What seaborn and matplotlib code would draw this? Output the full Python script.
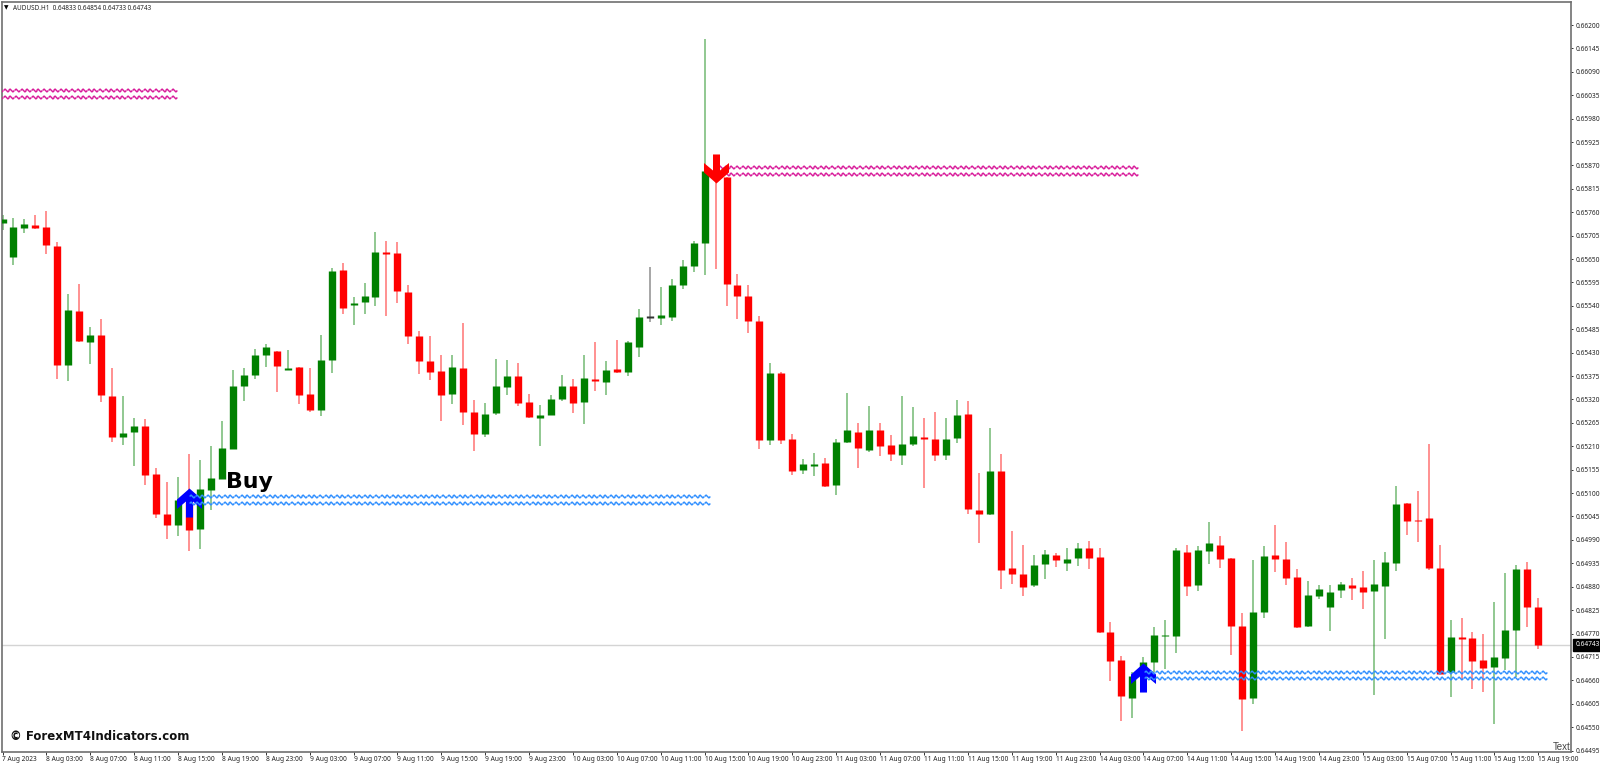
import numpy as np
import pandas as pd
import matplotlib
matplotlib.use("Agg")
import matplotlib.pyplot as plt
from matplotlib.path import Path
from matplotlib.ticker import FixedLocator, FixedFormatter
import seaborn as sns

# AUDUSD H1 prices, in units of 0.00001
opens = [65734,65655,65722,65730,65725,65681,65400,65528,65456,65472,
         65328,65231,65244,65258,65144,65051,65025,65079,65016,65107,
         65132,65203,65352,65378,65425,65433,65390,65396,65332,65295,
         65413,65624,65542,65548,65560,65666,65665,65573,65469,65410,
         65386,65332,65393,65290,65239,65289,65349,65375,65314,65277,
         65284,65321,65351,65315,65369,65361,65392,65385,65443,65514,
         65511,65513,65590,65634,65688,65857,65843,65589,65564,65504,
         65225,65382,65226,65154,65164,65170,65120,65219,65244,65202,
         65248,65212,65190,65215,65232,65228,65189,65229,65287,65060,
         65051,65152,64923,64909,64884,64934,64954,64936,64947,64970,
         64950,64774,64708,64618,64668,64703,64765,64765,64962,64884,
         64964,64978,64947,64788,64619,64821,64954,64945,64903,64787,
         64858,64832,64872,64884,64880,64871,64882,64936,65076,65037,
         65041,64924,64680,64761,64759,64708,64691,64712,64778,64921,
         64833]
highs = [65754,65746,65743,65754,65762,65689,65569,65591,65490,65508,
         65393,65328,65276,65273,65158,65127,65137,65191,65178,65211,
         65269,65389,65395,65439,65450,65433,65436,65396,65395,65472,
         65630,65640,65560,65593,65713,65692,65689,65589,65482,65469,
         65424,65424,65499,65319,65311,65416,65413,65406,65334,65307,
         65331,65377,65369,65424,65455,65410,65460,65457,65533,65631,
         65584,65604,65648,65692,66167,65883,65843,65614,65589,65516,
         65406,65385,65240,65179,65194,65183,65226,65336,65264,65304,
         65264,65236,65327,65302,65276,65290,65276,65319,65316,65148,
         65252,65192,65010,64978,64954,64966,64959,64972,64982,64988,
         64970,64796,64717,64679,64715,64785,64802,64970,64979,64976,
         65031,64998,64947,64818,64942,64976,65025,64985,64921,64893,
         64884,64884,64891,64900,64916,64942,64962,65116,65076,65105,
         65215,64978,64802,64806,64773,64770,64845,64913,64931,64938,
         64854]
lows = [65718,65636,65712,65721,65662,65367,65363,65455,65403,65315,
        65219,65213,65164,65119,65042,64993,65000,64965,64968,65060,
        65132,65203,65316,65369,65396,65338,65389,65309,65291,65281,
        65382,65521,65495,65521,65540,65517,65546,65450,65380,65366,
        65270,65309,65259,65200,65232,65284,65331,65305,65276,65211,
        65284,65317,65288,65262,65340,65330,65383,65375,65420,65501,
        65496,65505,65579,65620,65612,65626,65540,65510,65476,65203,
        65213,65216,65143,65145,65140,65115,65096,65217,65160,65197,
        65188,65175,65166,65211,65113,65176,65178,65218,65050,64982,
        65048,64874,64886,64858,64879,64898,64927,64917,64929,64922,
        64772,64658,64564,64571,64637,64680,64687,64725,64858,64871,
        64933,64924,64720,64541,64604,64806,64915,64884,64783,64786,
        64851,64776,64853,64848,64828,64626,64757,64916,65002,64985,
        64919,64676,64621,64661,64640,64633,64557,64684,64668,64786,
        64733]
closes = [65744,65726,65732,65722,65682,65402,65530,65457,65472,65330,
          65231,65241,65258,65142,65052,65024,65084,65014,65110,65135,
          65206,65352,65378,65425,65444,65399,65394,65330,65295,65412,
          65622,65536,65547,65563,65666,65663,65574,65469,65411,65385,
          65330,65396,65291,65240,65286,65351,65374,65312,65279,65284,
          65320,65351,65311,65370,65363,65389,65385,65454,65514,65514,
          65518,65589,65634,65687,65857,65845,65592,65563,65505,65225,
          65382,65225,65152,65168,65168,65117,65220,65248,65205,65248,
          65211,65193,65215,65233,65226,65190,65228,65284,65062,65052,
          65151,64919,64911,64880,64930,64956,64943,64944,64970,64948,
          64774,64705,64622,64670,64702,64767,64767,64967,64882,64966,
          64982,64945,64787,64617,64821,64952,64946,64901,64786,64860,
          64875,64868,64886,64878,64868,64886,64938,65074,65034,65034,
          64924,64676,64762,64758,64706,64689,64714,64778,64921,64832,
          64743]

# x axis: every 4th bar is labelled
tick_labels = ["7 Aug 2023",
               "8 Aug 03:00","8 Aug 07:00","8 Aug 11:00","8 Aug 15:00","8 Aug 19:00","8 Aug 23:00",
               "9 Aug 03:00","9 Aug 07:00","9 Aug 11:00","9 Aug 15:00","9 Aug 19:00","9 Aug 23:00",
               "10 Aug 03:00","10 Aug 07:00","10 Aug 11:00","10 Aug 15:00","10 Aug 19:00","10 Aug 23:00",
               "11 Aug 03:00","11 Aug 07:00","11 Aug 11:00","11 Aug 15:00","11 Aug 19:00","11 Aug 23:00",
               "14 Aug 03:00","14 Aug 07:00","14 Aug 11:00","14 Aug 15:00","14 Aug 19:00","14 Aug 23:00",
               "15 Aug 03:00","15 Aug 07:00","15 Aug 11:00","15 Aug 15:00","15 Aug 19:00"]
tick_bars = list(range(0, 141, 4))
price_ticks = [66200 - 55 * k for k in range(32)]

# indicator levels: (first bar, last bar, upper price, lower price)
sell_levels = [(-0.2, 15.85, 66047, 66031), (65.0, 103.6, 65866, 65850)]
buy_levels = [(17.3, 64.7, 65093, 65077), (104.3, 140.7, 64680, 64665)]
# arrows: (bar, tip price)
buy_arrows = [(17, 65112), (104, 64700)]
sell_arrows = [(65, 65829)]
last_price = 64743

GREEN, RED, DOJI = "#008000", "#ff0000", "#333333"
MAGENTA, BLUE = "#d81b9a", "#2f8fff"
SCALE = 1e-5

sns.set_theme(style="white")
plt.rcParams["font.family"] = ["DejaVu Sans"]

fig = plt.figure(figsize=(16, 7.65), dpi=100, facecolor="white")
ax = fig.add_axes([2 / 1600, 13 / 765, 1569 / 1600, 750 / 765])

o, h, l, c = (np.array(v, float) for v in (opens, highs, lows, closes))
bars = np.arange(len(o))
kind = np.where(c > o, "up", np.where(c < o, "down", "doji"))
palette = {"up": GREEN, "down": RED, "doji": DOJI}

wicks = pd.DataFrame({"bar": np.r_[bars, bars],
                      "price": np.r_[h, l] * SCALE,
                      "kind": np.r_[kind, kind]})
sns.lineplot(data=wicks, x="bar", y="price", units="bar", estimator=None, hue="kind",
             palette=palette, linewidth=1.1, alpha=0.55, legend=False, sort=False,
             solid_capstyle="butt", ax=ax, zorder=2)

mid = (o + c) / 2
half = np.maximum(np.abs(c - o) / 2, 1.6)
bodies = pd.DataFrame({"bar": np.r_[bars, bars],
                       "price": np.r_[mid + half, mid - half] * SCALE,
                       "kind": np.r_[kind, kind]})
sns.lineplot(data=bodies, x="bar", y="price", units="bar", estimator=None, hue="kind",
             palette=palette, linewidth=5.3, legend=False, sort=False,
             solid_capstyle="butt", ax=ax, zorder=3)

ax.axhline(last_price * SCALE, color="#d4d4d4", lw=1.0, zorder=1)

# wavy indicator levels
wave = Path([(-1, 0), (-0.5, 0.5), (0, 0), (0.5, -0.5), (1, 0)])
def draw_levels(levels, color):
    for x0, x1, up, dn in levels:
        xs = np.arange(x0, x1, 0.51)
        for lev in (up, dn):
            ax.plot(xs, np.full(xs.size, lev * SCALE), ls="none", marker=wave, ms=4.1,
                    mfc="none", mec=color, mew=1.05, zorder=5, clip_on=True)
draw_levels(sell_levels, MAGENTA)
draw_levels(buy_levels, BLUE)

# arrows, tip at the origin of the marker
shape = [(0, 0), (12.5, -11), (12.5, -20.5), (3.5, -13), (3.5, -29),
         (-3.5, -29), (-3.5, -13), (-12.5, -20.5), (-12.5, -11), (0, 0)]
arrow_up = Path(shape, closed=True)
arrow_down = Path([(x, -y) for x, y in shape], closed=True)
for b, p in buy_arrows:
    ax.plot([b], [p * SCALE], ls="none", marker=arrow_up, ms=41.8, mfc="#0000ff", mec="none", zorder=4)
for b, p in sell_arrows:
    ax.plot([b], [p * SCALE], ls="none", marker=arrow_down, ms=41.8, mfc="#ff0000", mec="none", zorder=6)

ax.set_xlim((2 - 2.5) / 10.97, (1571 - 2.5) / 10.97)
ax.set_ylim(64491.55 * SCALE, 66254.05 * SCALE)
ax.set_xlabel("")
ax.set_ylabel("")

ax.xaxis.set_major_locator(FixedLocator(tick_bars))
ax.xaxis.set_major_formatter(FixedFormatter(tick_labels))
ax.yaxis.tick_right()
ax.yaxis.set_major_locator(FixedLocator([p * SCALE for p in price_ticks]))
ax.yaxis.set_major_formatter(FixedFormatter([f"{p * SCALE:.5f}" for p in price_ticks]))
ax.tick_params(axis="x", length=2.2, width=0.7, color="#333333", pad=1.0,
               labelsize=4.75, labelcolor="#222222", bottom=True)
ax.tick_params(axis="y", length=1.6, width=0.7, color="#333333", pad=1.5,
               labelsize=4.75, labelcolor="#222222", right=True)
for t in ax.get_xticklabels():
    t.set_ha("left")
    t.set_fontfamily("Noto Sans")
for t in ax.get_yticklabels():
    t.set_fontfamily("Noto Sans")
for s in ax.spines.values():
    s.set_visible(True)
    s.set_color("#6f6f6f")
    s.set_linewidth(1.2)

ax.text(1.0027, last_price * SCALE, f"{last_price * SCALE:.5f}", transform=ax.get_yaxis_transform(),
        color="white", fontsize=4.75, fontfamily="Noto Sans", va="center", ha="left", zorder=10, clip_on=False,
        bbox=dict(fc="black", ec="black", boxstyle="square,pad=0.35"))

# texts placed in figure pixels
def ptext(x, y, s, **kw):
    fig.text(x / 1600, 1 - y / 765, s, **kw)
ptext(13, 8, "AUDUSD.H1  0.64833 0.64854 0.64733 0.64743", fontsize=4.55, fontfamily="Noto Sans",
      color="#222222", va="center", ha="left")
ptext(3.5, 8, "▼", fontsize=4.2, color="black", va="center", ha="left")
ptext(226, 481.5, "Buy", fontsize=15.8, fontweight="bold", color="black", va="center", ha="left")
ptext(9.5, 737, "© ForexMT4Indicators.com", fontsize=8.5, fontweight="bold", color="#111111", va="center", ha="left")
ptext(1553, 747, "Text", fontsize=7, fontfamily="Liberation Sans", color="#444444", va="center", ha="left")

fig.savefig("out.png", dpi=100, facecolor="white")
